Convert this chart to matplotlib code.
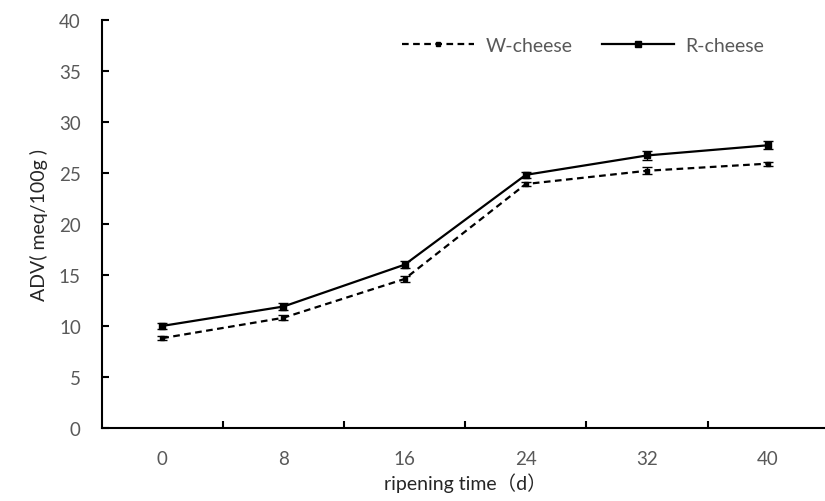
"""
ADV of W-cheese and R-cheese over ripening time
"""

import matplotlib

matplotlib.use("Agg")
import matplotlib.pyplot as plt

plt.rcParams["font.family"] = ["Lato", "Noto Sans CJK SC", "DejaVu Sans"]

# data
days = ["0", "8", "16", "24", "32", "40"]
w_cheese = [8.8, 10.8, 14.6, 23.9, 25.2, 25.9]
w_err = [0.2, 0.25, 0.3, 0.2, 0.35, 0.2]
r_cheese = [10.0, 11.9, 16.0, 24.8, 26.7, 27.7]
r_err = [0.3, 0.35, 0.35, 0.3, 0.4, 0.4]
y_ticks = [0, 5, 10, 15, 20, 25, 30, 35, 40]

GRAY = "#595959"

fig = plt.figure(figsize=(8.25, 5.02), dpi=100)
ax = fig.add_axes([101.7 / 825, 1 - 429 / 502, 727 / 825, 408.3 / 502])

x = list(range(len(days)))

# error bars (no legend entry)
ax.errorbar(x, w_cheese, yerr=w_err, fmt="none", ecolor="black",
            capsize=3.5, elinewidth=1.0, capthick=1.0)
ax.errorbar(x, r_cheese, yerr=r_err, fmt="none", ecolor="black",
            capsize=3.5, elinewidth=1.0, capthick=1.0)

ax.plot(x, w_cheese, color="black", linestyle=(0, (3, 2)), linewidth=1.6,
        marker="s", markersize=3.5, label="W-cheese")
ax.plot(x, r_cheese, color="black", linestyle="-", linewidth=1.6,
        marker="s", markersize=5, label="R-cheese")

# axes
ax.set_xlim(-0.5, len(days) - 0.5)
ax.set_ylim(0, 40)
ax.set_yticks(y_ticks)
ax.set_xticks(x)
ax.set_xticklabels(days)
ax.set_xticks([i + 0.5 for i in x[:-1]], minor=True)

for side in ["top", "right"]:
    ax.spines[side].set_visible(False)
for side in ["left", "bottom"]:
    ax.spines[side].set_linewidth(1.5)

ax.tick_params(axis="x", which="major", length=0, pad=16, labelsize=13.5, labelcolor=GRAY)
ax.tick_params(axis="x", which="minor", direction="in", length=5, width=1.5)
ax.tick_params(axis="y", direction="in", length=5, width=1.5, pad=15,
               labelsize=13.5, labelcolor=GRAY)

ax.set_xlabel("ripening time（d）", fontsize=14, color="#262626", labelpad=4)
ax.set_ylabel("ADV( meq/100g )", fontsize=14, color="#262626", labelpad=8)

leg = ax.legend(
    loc="center left",
    bbox_to_anchor=(402 / 825, 1 - 46 / 502),
    bbox_transform=fig.transFigure,
    ncol=2,
    frameon=False,
    fontsize=14,
    handlelength=3.7,
    handletextpad=0.6,
    columnspacing=1.5,
    borderpad=0,
    borderaxespad=0,
)
for t in leg.get_texts():
    t.set_color(GRAY)

fig.savefig("out.png", dpi=100)
plt.close(fig)
